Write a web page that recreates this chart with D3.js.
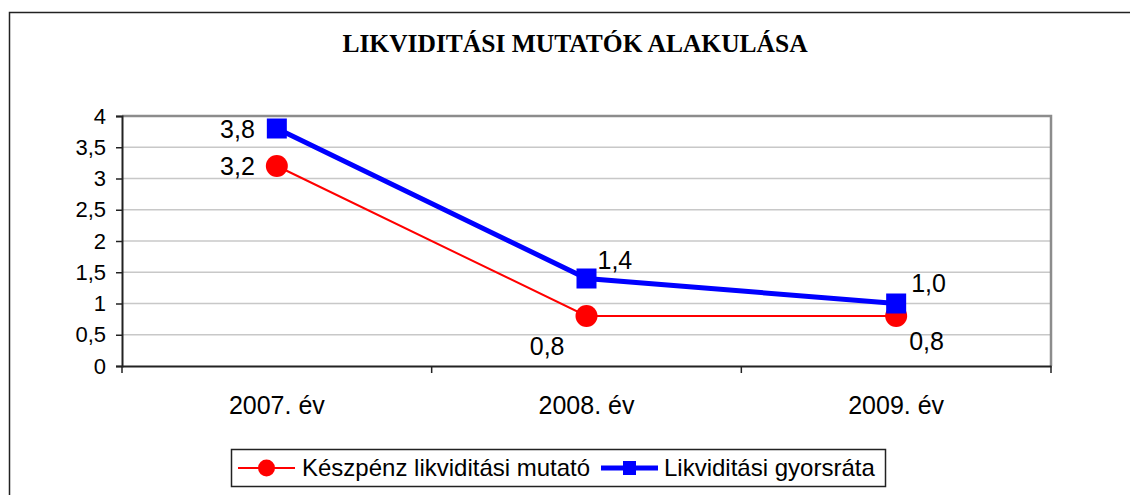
<!DOCTYPE html>
<html>
<head>
<meta charset="utf-8">
<script src="https://cdn.jsdelivr.net/npm/d3@7"></script>
<style>
    body { margin: 0; background: #fff; }
    text { font-family: Arial, "Liberation Sans", sans-serif; fill: #000; }
    .title { font-family: "Times New Roman", "Liberation Serif", serif; font-weight: bold; }
</style>
</head>
<body>
<svg id="chart"></svg>
<script>
// chart data
const years = ['2007. év', '2008. év', '2009. év'];
const keszpenz = [3.2, 0.8, 0.8];
const gyorsrata = [3.8, 1.4, 1.0];
const seriesNames = ['Készpénz likviditási mutató', 'Likviditási gyorsráta'];
const yTicks = [0, 0.5, 1, 1.5, 2, 2.5, 3, 3.5, 4];
const chartTitle = 'LIKVIDITÁSI MUTATÓK ALAKULÁSA';

class LineChart {

    constructor(_config) {
        this.config = {
            parentElement: _config.parentElement,
            containerWidth: 1130,
            containerHeight: 495,
            margin: {top: 116, right: 79, bottom: 129, left: 122}
        }
        this.initVis();
    }

    initVis() {
        let vis = this;

        vis.width = vis.config.containerWidth - vis.config.margin.left - vis.config.margin.right;
        vis.height = vis.config.containerHeight - vis.config.margin.top - vis.config.margin.bottom;

        vis.svg = d3.select(vis.config.parentElement)
            .attr('width', vis.config.containerWidth)
            .attr('height', vis.config.containerHeight);

        // outer frame of the chart object (runs off the right/bottom edge)
        vis.svg.append('rect')
            .attr('x', 9.5).attr('y', 12.5)
            .attr('width', 1140).attr('height', 500)
            .attr('fill', '#fff')
            .attr('stroke', '#222')
            .attr('stroke-width', 1.5);

        vis.svg.append('text')
            .attr('class', 'title')
            .attr('x', 575)
            .attr('y', 52)
            .attr('text-anchor', 'middle')
            .style('font-size', '25.5px')
            .text(chartTitle);

        vis.chart = vis.svg.append('g')
            .attr('transform', `translate(${vis.config.margin.left},${vis.config.margin.top})`);

        vis.xScale = d3.scaleBand()
            .domain(years)
            .range([0, vis.width]);

        vis.yScale = d3.scaleLinear()
            .domain([0, 4])
            .range([vis.height, 0]);

        vis.series = [
            {name: seriesNames[0], values: keszpenz, color: '#ff0000', width: 2, marker: 'circle'},
            {name: seriesNames[1], values: gyorsrata, color: '#0000ff', width: 5, marker: 'square'}
        ];

        vis.renderVis();
    }

    renderVis() {
        let vis = this;

        // gridlines
        vis.chart.append('g')
            .selectAll('line')
            .data(yTicks.slice(1, -1))
            .join('line')
            .attr('x1', 0).attr('x2', vis.width)
            .attr('y1', d => vis.yScale(d)).attr('y2', d => vis.yScale(d))
            .attr('stroke', '#c8c8c8')
            .attr('stroke-width', 1.5);

        // plot area border (top and right)
        vis.chart.append('path')
            .attr('d', `M0,${vis.yScale(4)}H${vis.width}V${vis.height}`)
            .attr('fill', 'none')
            .attr('stroke', '#8c8c8c')
            .attr('stroke-width', 2.5);

        // y axis
        vis.yAxisG = vis.chart.append('g')
            .call(d3.axisLeft(vis.yScale)
                .tickValues(yTicks)
                .tickSize(6)
                .tickPadding(10)
                .tickFormat(d => String(d).replace('.', ',')));

        // x axis: ticks on category boundaries
        vis.xAxisG = vis.chart.append('g')
            .attr('transform', `translate(0,${vis.height})`)
            .call(d3.axisBottom(vis.xScale).tickSize(0).tickPadding(30));

        vis.xAxisG.selectAll('.bound')
            .data(d3.range(years.length + 1))
            .join('line')
            .attr('class', 'bound')
            .attr('x1', i => i * vis.xScale.step())
            .attr('x2', i => i * vis.xScale.step())
            .attr('y1', 0).attr('y2', 7)
            .attr('stroke', '#222')
            .attr('stroke-width', 1.5);

        vis.chart.selectAll('.domain')
            .attr('stroke', '#222')
            .attr('stroke-width', 2);
        vis.yAxisG.selectAll('.tick line').attr('stroke', '#222').attr('stroke-width', 1.5);
        vis.yAxisG.selectAll('.tick text').style('font-size', '22px');
        vis.xAxisG.selectAll('.tick text').style('font-size', '25px');
        vis.chart.selectAll('.domain').raise();

        let xc = d => vis.xScale(d) + vis.xScale.bandwidth() / 2;
        let line = d3.line()
            .x((d, i) => xc(years[i]))
            .y(d => vis.yScale(d));

        vis.series.forEach(s => {
            let g = vis.chart.append('g');
            g.append('path')
                .datum(s.values)
                .attr('d', line)
                .attr('fill', 'none')
                .attr('stroke', s.color)
                .attr('stroke-width', s.width);

            if (s.marker === 'circle') {
                g.selectAll('circle')
                    .data(s.values)
                    .join('circle')
                    .attr('cx', (d, i) => xc(years[i]))
                    .attr('cy', d => vis.yScale(d))
                    .attr('r', 11)
                    .attr('fill', s.color);
            } else {
                g.selectAll('rect')
                    .data(s.values)
                    .join('rect')
                    .attr('x', (d, i) => xc(years[i]) - 10)
                    .attr('y', d => vis.yScale(d) - 10)
                    .attr('width', 20).attr('height', 20)
                    .attr('fill', s.color);
            }
        });

        // data labels: offsets per point [dx, dy, anchor]
        let fmt = d => d.toFixed(1).replace('.', ',');
        let labelPos = {
            keszpenz: [[-22, 9, 'end'], [-22, 39, 'end'], [13, 34, 'start']],
            gyorsrata: [[-22, 9, 'end'], [11, -10, 'start'], [15, -12, 'start']]
        };
        [['keszpenz', keszpenz], ['gyorsrata', gyorsrata]].forEach(([key, vals]) => {
            vis.chart.append('g')
                .selectAll('text')
                .data(vals)
                .join('text')
                .attr('x', (d, i) => xc(years[i]) + labelPos[key][i][0])
                .attr('y', (d, i) => vis.yScale(d) + labelPos[key][i][1])
                .attr('text-anchor', (d, i) => labelPos[key][i][2])
                .style('font-size', '25px')
                .text(fmt);
        });

        // legend
        let legend = vis.svg.append('g').attr('transform', 'translate(231,449)');
        legend.append('rect')
            .attr('x', 0.5).attr('y', 0.5)
            .attr('width', 654).attr('height', 37)
            .attr('fill', '#fff')
            .attr('stroke', '#222')
            .attr('stroke-width', 1.5);

        let items = [{x: 7, textX: 71}, {x: 370, textX: 433}];
        vis.series.forEach((s, i) => {
            let item = legend.append('g').attr('transform', `translate(${items[i].x},19)`);
            item.append('line')
                .attr('x1', 0).attr('x2', 57)
                .attr('stroke', s.color)
                .attr('stroke-width', s.width);
            if (s.marker === 'circle') {
                item.append('circle').attr('cx', 28.5).attr('r', 8.5).attr('fill', s.color);
            } else {
                item.append('rect').attr('x', 22).attr('y', -7).attr('width', 13).attr('height', 14).attr('fill', s.color);
            }
            legend.append('text')
                .attr('x', items[i].textX)
                .attr('y', 19)
                .attr('dy', '0.35em')
                .style('font-size', '24px')
                .text(s.name);
        });
    }
}

new LineChart({parentElement: '#chart'});
</script>
</body>
</html>
